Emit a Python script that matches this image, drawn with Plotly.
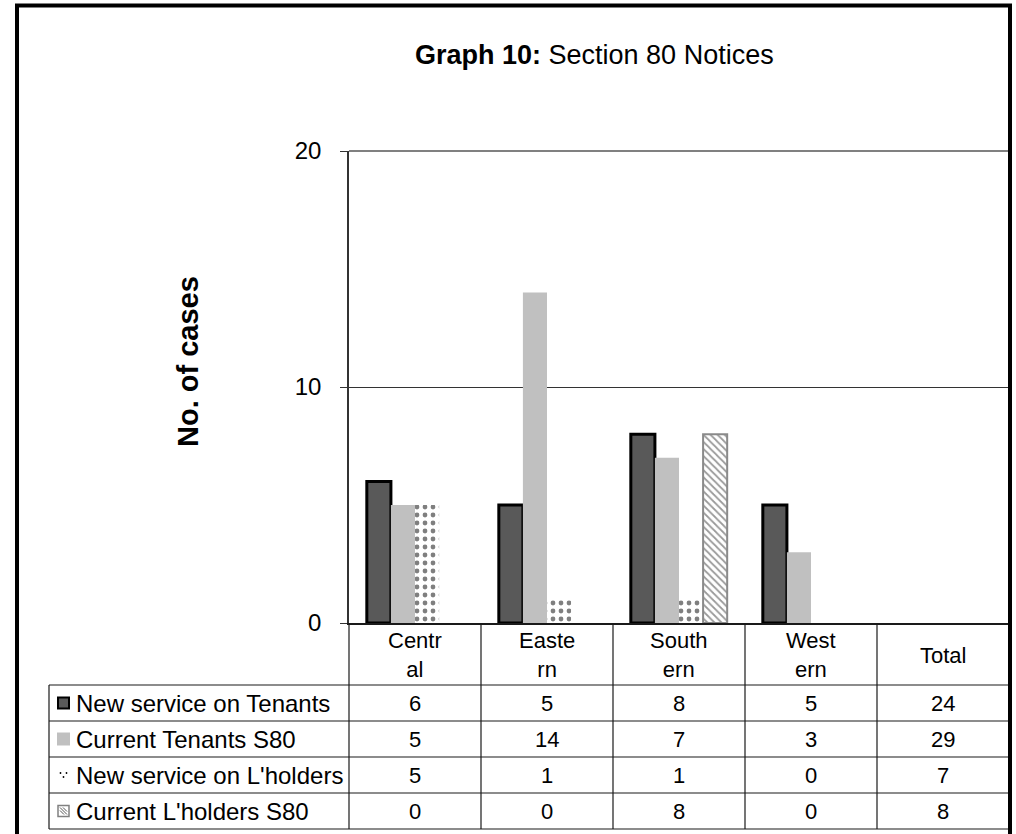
import plotly.graph_objects as go

# ---- data -----------------------------------------------------------------
regions = ["Central", "Eastern", "Southern", "Western"]
columns = regions + ["Total"]
column_labels = ["Centr<br>al", "Easte<br>rn", "South<br>ern", "West<br>ern", "Total"]
series_names = [
    "New service on Tenants",
    "Current Tenants S80",
    "New service on L'holders",
    "Current L'holders S80",
]
new_tenants = [6, 5, 8, 5]
current_tenants = [5, 14, 7, 3]
new_lholders = [5, 1, 1, 0]
current_lholders = [0, 0, 8, 0]
totals = [24, 29, 7, 8]

series_values = [new_tenants, current_tenants, new_lholders, current_lholders]

# ---- geometry (pixels) ----------------------------------------------------
W, H = 1016, 834
L, R, T, B = 349, 1009, 151, 623          # plot area
TABLE_LEFT = 49
HEADER_BOTTOM = 685
ROW_H = 36
FONT = "Liberation Sans, Arial, sans-serif"


def px_x(x):
    return (x - L) / (R - L)


def px_y(y):
    return (B - y) / (B - T)


fig = go.Figure()

# ---- bars -----------------------------------------------------------------
fig.add_trace(go.Bar(
    x=regions, y=new_tenants, name=series_names[0],
    marker=dict(color="#595959", line=dict(color="#000000", width=3)),
))
fig.add_trace(go.Bar(
    x=regions, y=current_tenants, name=series_names[1],
    marker=dict(color="#c0c0c0", line=dict(color="#c0c0c0", width=0)),
))
fig.add_trace(go.Bar(
    x=regions, y=new_lholders, name=series_names[2],
    marker=dict(color="#ffffff", line=dict(width=0),
                pattern=dict(shape=".", fgcolor="#000000", bgcolor="#ffffff",
                             size=8, solidity=0.28)),
))
fig.add_trace(go.Bar(
    x=regions, y=current_lholders, name=series_names[3],
    marker=dict(color="#ffffff",
                line=dict(color="#8a8a8a", width=[2 if v else 0 for v in current_lholders]),
                pattern=dict(shape="\\", fgcolor="#333333", bgcolor="#ffffff",
                             size=5, solidity=0.35)),
))

shapes = []
annotations = []

# top gridline at the axis maximum
shapes.append(dict(type="line", xref="paper", yref="paper", x0=0, x1=1, y0=1, y1=1,
                   line=dict(color="#808080", width=2)))

# ---- table lines ----------------------------------------------------------
line_col = "#1a1a1a"
row_edges = [HEADER_BOTTOM + i * ROW_H for i in range(len(series_names) + 1)]
for y in row_edges:
    shapes.append(dict(type="line", xref="paper", yref="paper",
                       x0=px_x(TABLE_LEFT), x1=1, y0=px_y(y), y1=px_y(y),
                       line=dict(color=line_col, width=1.2)))
# left edge of the table
shapes.append(dict(type="line", xref="paper", yref="paper",
                   x0=px_x(TABLE_LEFT), x1=px_x(TABLE_LEFT),
                   y0=px_y(HEADER_BOTTOM), y1=px_y(row_edges[-1]),
                   line=dict(color=line_col, width=1.2)))
# value axis continues down as the label-column border
shapes.append(dict(type="line", xref="paper", yref="paper",
                   x0=0, x1=0, y0=0, y1=px_y(row_edges[-1]),
                   line=dict(color=line_col, width=1.2)))
# category separators
for i in range(len(columns) - 1):
    shapes.append(dict(type="line", xref="x", yref="paper",
                       x0=i + 0.5, x1=i + 0.5, y0=0, y1=px_y(row_edges[-1]),
                       line=dict(color=line_col, width=1.2)))


def cell_text(x, y, text, size, xref="x", xanchor="center"):
    return dict(x=x, y=y, xref=xref, yref="paper", text=text, showarrow=False,
                xanchor=xanchor, yanchor="middle", align="center",
                font=dict(family=FONT, size=size, color="#000000"))


# ---- header labels ----------------------------------------------------------
for i, lab in enumerate(column_labels):
    annotations.append(cell_text(i, px_y((B + HEADER_BOTTOM) / 2 + 1), lab, 22))


def row_center(r):
    return HEADER_BOTTOM + ROW_H * r + ROW_H / 2


# ---- table rows -------------------------------------------------------------
for r, (name, vals) in enumerate(zip(series_names, series_values)):
    yc = row_center(r)
    annotations.append(cell_text(px_x(74), px_y(yc), name, 24, xref="paper", xanchor="left"))
    row_vals = list(vals) + [totals[r]]
    for i, v in enumerate(row_vals):
        annotations.append(cell_text(i, px_y(yc), str(v), 22))

# ---- legend keys inside the table ------------------------------------------
sx0, sx1 = 58, 69
yc = row_center(0)
shapes.append(dict(type="rect", xref="paper", yref="paper",
                   x0=px_x(sx0), x1=px_x(sx1), y0=px_y(yc - 5.5), y1=px_y(yc + 5.5),
                   fillcolor="#595959", line=dict(color="#000000", width=2)))
yc = row_center(1)
shapes.append(dict(type="rect", xref="paper", yref="paper",
                   x0=px_x(sx0 - 1), x1=px_x(sx1 + 1), y0=px_y(yc - 6.5), y1=px_y(yc + 6.5),
                   fillcolor="#c0c0c0", line=dict(width=0)))
yc = row_center(2)
for dx, dy in [(-3, -2), (3, -2), (0, 2)]:
    cx, cy = (sx0 + sx1) / 2 + dx, yc + dy
    shapes.append(dict(type="circle", xref="paper", yref="paper",
                       x0=px_x(cx - 0.9), x1=px_x(cx + 0.9),
                       y0=px_y(cy - 0.9), y1=px_y(cy + 0.9),
                       fillcolor="#000000", line=dict(width=0)))
yc = row_center(3)
shapes.append(dict(type="rect", xref="paper", yref="paper",
                   x0=px_x(sx0), x1=px_x(sx1), y0=px_y(yc - 5.5), y1=px_y(yc + 5.5),
                   fillcolor="#ffffff", line=dict(color="#808080", width=1.5)))
for off in (-3, 0, 3):
    shapes.append(dict(type="line", xref="paper", yref="paper",
                       x0=px_x(sx0 + 2 + max(off, 0)), x1=px_x(sx1 - 2 + min(off, 0)),
                       y0=px_y(yc - 3.5 - min(off, 0)), y1=px_y(yc + 3.5 - max(off, 0)),
                       line=dict(color="#555555", width=1)))

# ---- outer frame ------------------------------------------------------------
frame = dict(color="#000000", width=4)
shapes.append(dict(type="line", xref="paper", yref="paper",
                   x0=px_x(17), x1=px_x(17), y0=px_y(4), y1=px_y(H + 10), line=frame))
shapes.append(dict(type="line", xref="paper", yref="paper",
                   x0=px_x(15), x1=px_x(1012), y0=px_y(5.5), y1=px_y(5.5), line=frame))
shapes.append(dict(type="line", xref="paper", yref="paper",
                   x0=px_x(1010), x1=px_x(1010), y0=px_y(4), y1=px_y(H + 10), line=frame))

# ---- titles -----------------------------------------------------------------
annotations.append(dict(x=px_x(594), y=px_y(55), xref="paper", yref="paper",
                        xanchor="center", yanchor="middle",
                        text="<b>Graph 10:</b> Section 80 Notices", showarrow=False,
                        font=dict(family=FONT, size=27, color="#000000")))
annotations.append(dict(x=px_x(188), y=px_y(362), xref="paper", yref="paper",
                        xanchor="center", yanchor="middle",
                        text="<b>No. of cases</b>", showarrow=False, textangle=-90,
                        font=dict(family=FONT, size=29, color="#000000")))

fig.update_layout(
    width=W, height=H,
    margin=dict(l=L, r=W - R, t=T, b=H - B, pad=0),
    paper_bgcolor="#ffffff", plot_bgcolor="#ffffff",
    barmode="group", bargap=0.27, bargroupgap=0,
    showlegend=False,
    shapes=shapes, annotations=annotations,
    font=dict(family=FONT, color="#000000"),
)
fig.update_xaxes(
    type="category", categoryorder="array", categoryarray=columns,
    range=[-0.5, len(columns) - 0.5], showticklabels=False, ticks="",
    showline=True, linecolor="#1a1a1a", linewidth=1.5, showgrid=False, zeroline=False,
)
fig.update_yaxes(
    range=[0, 20], tickvals=[0, 10, 20], ticks="outside", ticklen=7,
    tickcolor="#333333", tickwidth=1, ticklabelstandoff=14,
    tickfont=dict(family=FONT, size=24, color="#000000"),
    showline=True, linecolor="#333333", linewidth=1.5,
    showgrid=True, gridcolor="#333333", gridwidth=1, zeroline=False,
)

fig.write_html("out.html")
